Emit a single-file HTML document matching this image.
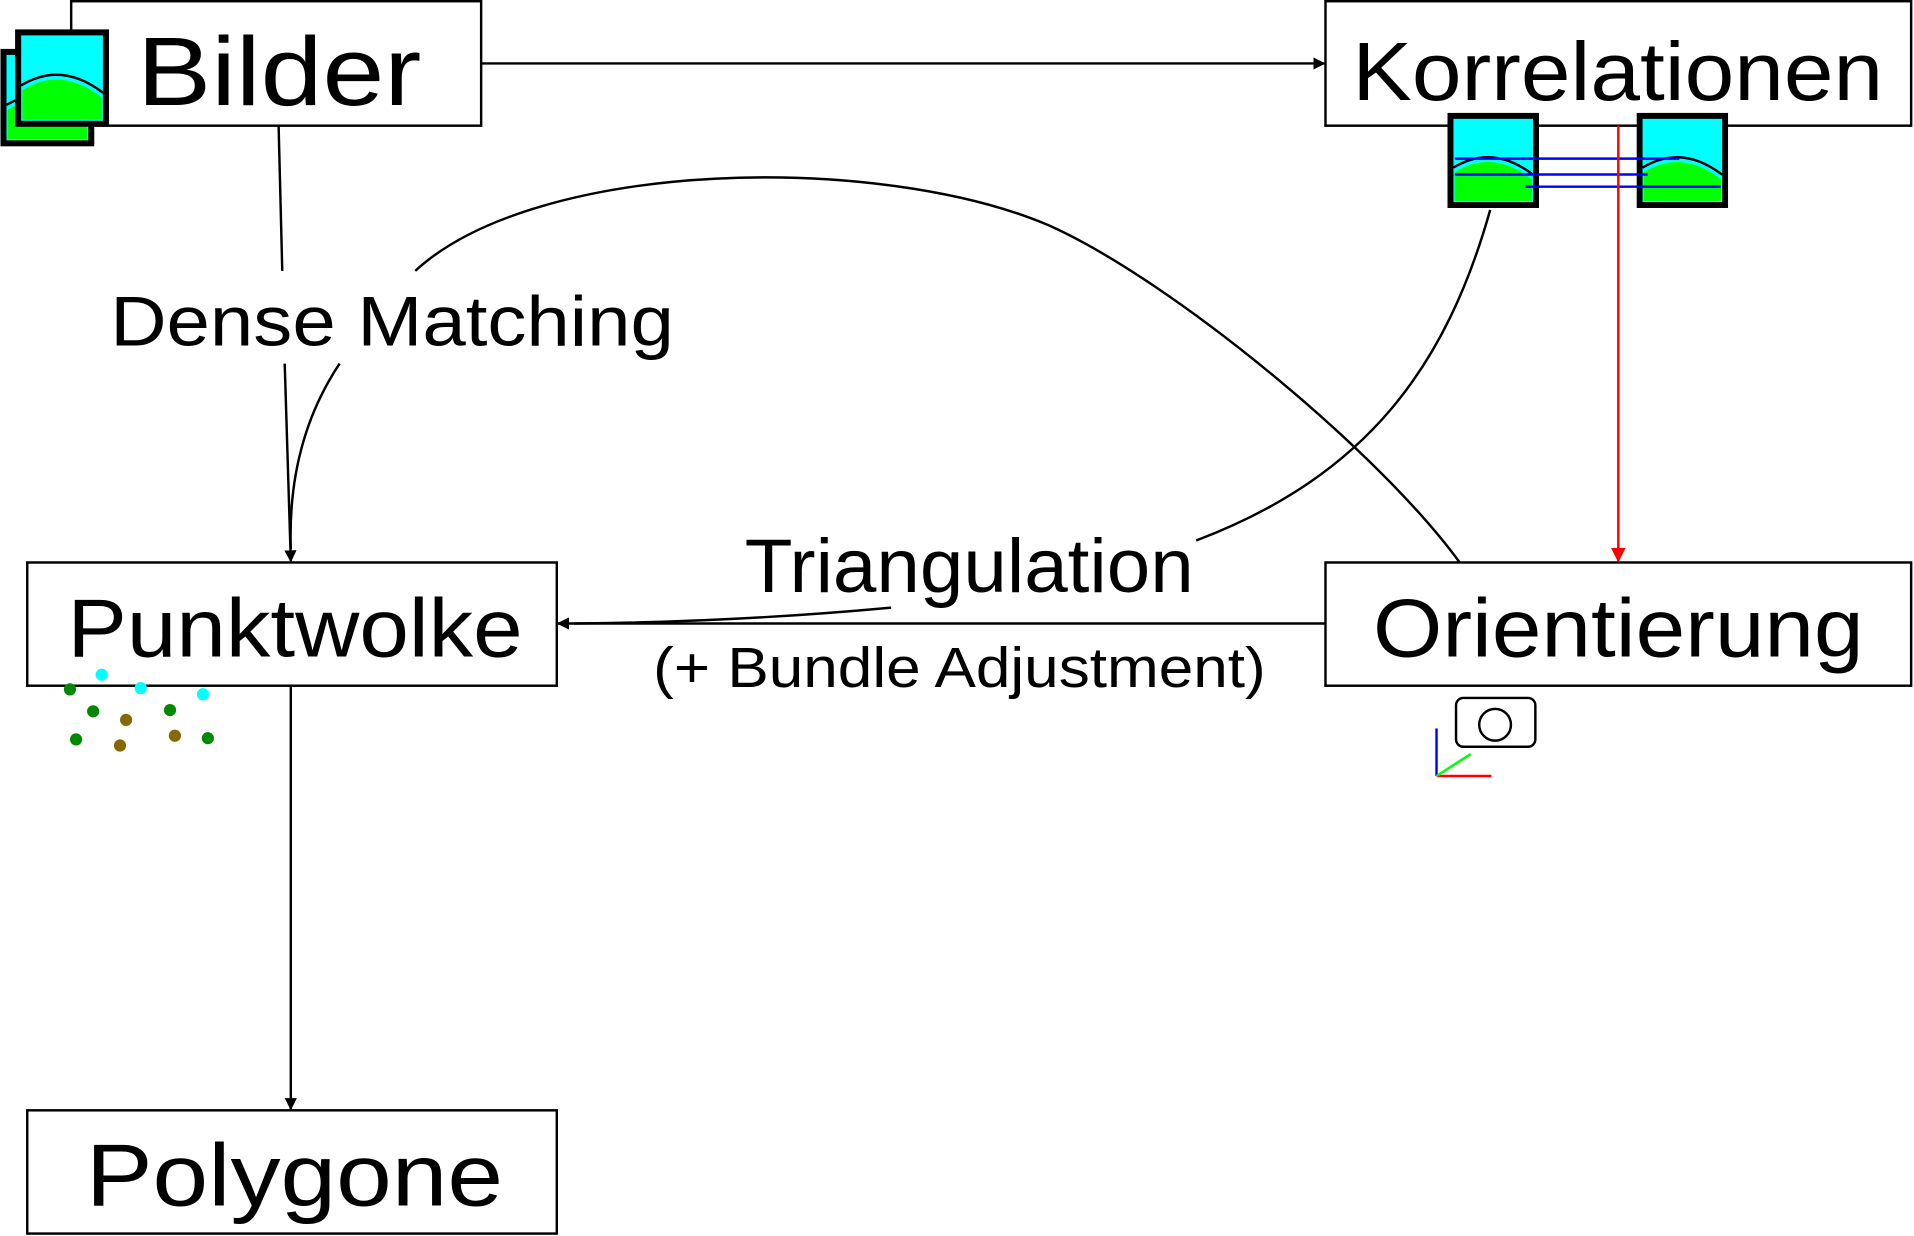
<!DOCTYPE html>
<html><head><meta charset="utf-8"><style>
html,body{margin:0;padding:0;background:#fff;width:1914px;height:1236px;overflow:hidden}
svg{display:block}
text{font-family:"Liberation Sans",sans-serif;fill:#000}
</style></head><body>
<svg width="1914" height="1236" viewBox="0 0 1568 1013" xmlns="http://www.w3.org/2000/svg">
<defs>
<marker id="a" markerWidth="10" markerHeight="10" refX="9" refY="5" orient="auto" markerUnits="userSpaceOnUse"><path d="M0,0 L10,5 L0,10 z" fill="#000"/></marker>
<marker id="r" markerWidth="12" markerHeight="12" refX="11" refY="6" orient="auto" markerUnits="userSpaceOnUse"><path d="M0,0 L12,6 L0,12 z" fill="#f00"/></marker>
<symbol id="pic" viewBox="0 0 77 80">
<rect x="2.5" y="2.5" width="72" height="75" fill="#0ff" stroke="#000" stroke-width="5"/>
<path d="M6,74 L6,50 Q38,30 71,56 L71,74 z" fill="#0f0"/>
<path d="M5,46 Q38,26 72,52" fill="none" stroke="#000" stroke-width="2"/>
</symbol>
</defs>
<g fill="none" stroke="#000" stroke-width="2">
<rect x="58" y="1" width="336" height="102"/>
<rect x="1086" y="1" width="480" height="102"/>
<rect x="22" y="461" width="434" height="101"/>
<rect x="1086" y="461" width="480" height="101"/>
<rect x="22" y="910" width="434" height="101"/>
</g>
<use href="#pic" x="0" y="40" width="77" height="80"/>
<use href="#pic" x="12" y="24" width="77" height="80"/>
<use href="#pic" x="1186" y="92" width="75" height="79"/>
<use href="#pic" x="1341" y="92" width="75" height="79"/>
<g stroke="#00f" stroke-width="2">
<line x1="1192" y1="130" x2="1376" y2="130"/>
<line x1="1192" y1="143" x2="1350" y2="143"/>
<line x1="1250" y1="153" x2="1410" y2="153"/>
</g>
<g fill="none" stroke="#000" stroke-width="2">
<line x1="394" y1="52" x2="1085" y2="52" marker-end="url(#a)"/>
<line x1="228" y1="103" x2="231" y2="222"/>
<line x1="233" y1="298" x2="238" y2="460" marker-end="url(#a)"/>
<path d="M1196,461 C1130,370 960,230 860,185 C720,125 440,130 340,222"/>
<path d="M278,298 C250,340 236,390 238,450"/>
<path d="M1221,172 C1185,300 1120,390 980,443"/>
<line x1="1086" y1="511" x2="457" y2="511" marker-end="url(#a)"/>
<path d="M730,498 Q600,510 470,511"/>
<line x1="238" y1="562" x2="238" y2="909" marker-end="url(#a)"/>
</g>
<line x1="1326" y1="103" x2="1326" y2="460" stroke="#f00" stroke-width="2" marker-end="url(#r)"/>
<text x="112" y="86" font-size="80" textLength="233" lengthAdjust="spacingAndGlyphs">Bilder</text>
<text x="1108" y="82" font-size="68" textLength="435" lengthAdjust="spacingAndGlyphs">Korrelationen</text>
<text x="55" y="538" font-size="68" textLength="373" lengthAdjust="spacingAndGlyphs">Punktwolke</text>
<text x="1125" y="538" font-size="68" textLength="402" lengthAdjust="spacingAndGlyphs">Orientierung</text>
<text x="70" y="988" font-size="72" textLength="342" lengthAdjust="spacingAndGlyphs">Polygone</text>
<text x="90" y="283" font-size="58" textLength="462" lengthAdjust="spacingAndGlyphs">Dense Matching</text>
<text x="610" y="485" font-size="62" textLength="368" lengthAdjust="spacingAndGlyphs">Triangulation</text>
<text x="535" y="563" font-size="46" textLength="502" lengthAdjust="spacingAndGlyphs">(+ Bundle Adjustment)</text>
<g>
<circle cx="57" cy="565" r="5" fill="#080"/><circle cx="83" cy="553" r="5" fill="#0ff"/>
<circle cx="115" cy="564" r="5" fill="#0ff"/><circle cx="166" cy="569" r="5" fill="#0ff"/>
<circle cx="76" cy="583" r="5" fill="#080"/><circle cx="103" cy="590" r="5" fill="#860"/>
<circle cx="139" cy="582" r="5" fill="#080"/><circle cx="62" cy="606" r="5" fill="#080"/>
<circle cx="98" cy="611" r="5" fill="#860"/><circle cx="143" cy="603" r="5" fill="#860"/>
<circle cx="170" cy="605" r="5" fill="#080"/>
</g>
<rect x="1193" y="572" width="65" height="40" rx="6" fill="none" stroke="#000" stroke-width="2"/>
<circle cx="1225" cy="594" r="13" fill="none" stroke="#000" stroke-width="2"/>
<line x1="1177" y1="597" x2="1177" y2="636" stroke="#00f" stroke-width="2"/>
<line x1="1177" y1="636" x2="1222" y2="636" stroke="#f00" stroke-width="2"/>
<line x1="1177" y1="636" x2="1205" y2="618" stroke="#0f0" stroke-width="2"/>
</svg>
</body></html>
